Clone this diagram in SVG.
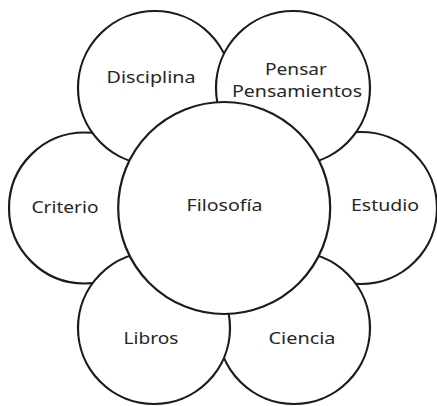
<svg xmlns="http://www.w3.org/2000/svg" width="437" height="406" viewBox="0 0 437 406">
<style>
.c{fill:#fff;stroke:#1c1c1c;stroke-width:2.2}
.t{font-family:"Noto Sans","Open Sans",sans-serif;font-size:17px;fill:#262626;text-anchor:middle}
</style>
<rect width="437" height="406" fill="#fff"/>
<g id="connectors"></g>
<g id="estudio"><circle class="c" cx="361" cy="208" r="76"/><text class="t" x="385" y="211" textLength="68" lengthAdjust="spacingAndGlyphs">Estudio</text></g>
<g id="ciencia"><circle class="c" cx="294" cy="328" r="76"/><text class="t" x="302" y="344" textLength="67" lengthAdjust="spacingAndGlyphs">Ciencia</text></g>
<g id="criterio"><circle class="c" cx="84.5" cy="208" r="75.5"/><text class="t" x="65" y="212.5" textLength="67" lengthAdjust="spacingAndGlyphs">Criterio</text></g>
<g id="libros"><circle class="c" cx="154" cy="328" r="76"/><text class="t" x="151" y="344" textLength="55" lengthAdjust="spacingAndGlyphs">Libros</text></g>
<g id="disciplina"><circle class="c" cx="155" cy="88" r="77"/><text class="t" x="151" y="82.7" textLength="89" lengthAdjust="spacingAndGlyphs">Disciplina</text></g>
<g id="pensar"><circle class="c" cx="293" cy="88" r="77"/><text class="t" x="296" y="75" textLength="62" lengthAdjust="spacingAndGlyphs">Pensar</text><text class="t" x="297" y="96.7" textLength="130" lengthAdjust="spacingAndGlyphs">Pensamientos</text></g>
<g id="filosofia"><circle class="c" cx="224.2" cy="208" r="106"/><text class="t" x="224.5" y="211" textLength="76" lengthAdjust="spacingAndGlyphs">Filosofía</text></g>
</svg>
